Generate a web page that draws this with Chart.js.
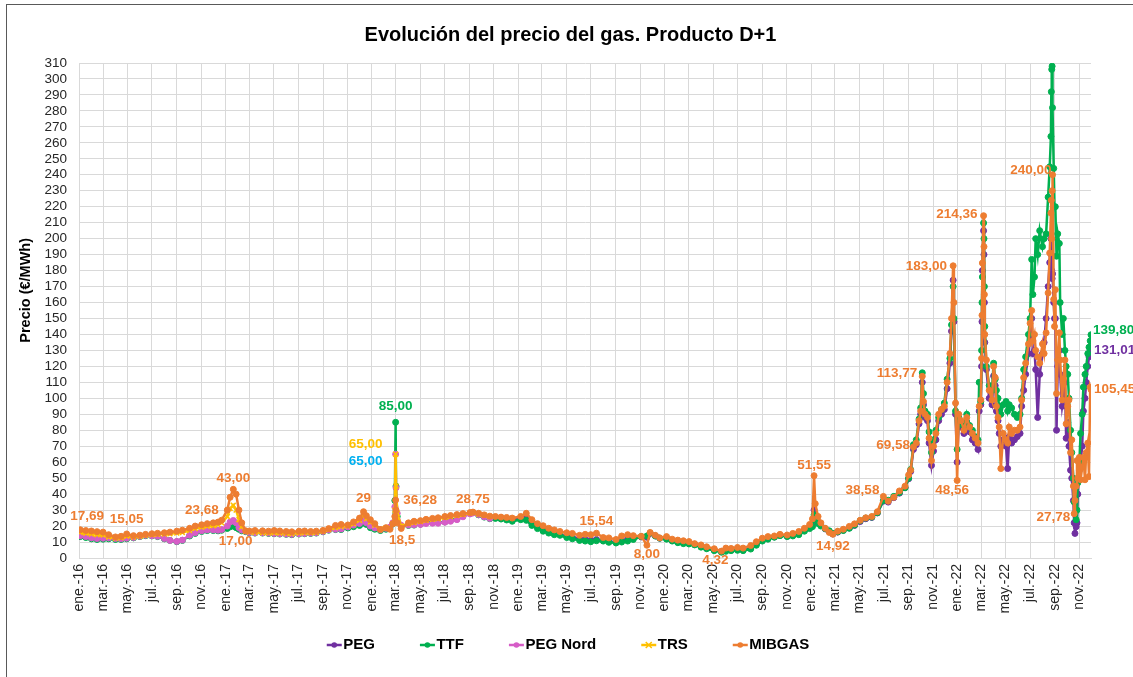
<!DOCTYPE html>
<html lang="es">
<head>
<meta charset="utf-8">
<title>Evolución del precio del gas. Producto D+1</title>
<script src="https://cdn.jsdelivr.net/npm/chart.js@4.4.1/dist/chart.umd.min.js"></script>
<style>
  html, body { margin: 0; padding: 0; background: #fff; overflow: hidden; }
  canvas { position: absolute; left: 0; top: 0; }
  #marco { position: absolute; left: 6px; top: 4px; width: 1200px; height: 800px; border: 1px solid #595959; pointer-events: none; }
</style>
</head>
<body>
<canvas id="grafico" width="1133" height="677"></canvas>
<div id="marco"></div>
<script>
// fechas de las muestras (producto D+1)
const fechas = [
  '2016-01-04','2016-01-18','2016-02-01','2016-02-15','2016-03-01','2016-03-15','2016-04-01','2016-04-15','2016-04-29','2016-05-16','2016-06-01','2016-06-15','2016-07-01','2016-07-15','2016-08-01','2016-08-15','2016-09-01','2016-09-15','2016-10-03','2016-10-17','2016-11-02','2016-11-16','2016-12-01','2016-12-13','2016-12-22',
  '2017-01-05','2017-01-12','2017-01-20','2017-01-27','2017-02-03','2017-02-10','2017-02-20','2017-03-01','2017-03-15','2017-04-03','2017-04-18','2017-05-02','2017-05-16','2017-06-01','2017-06-15','2017-07-03','2017-07-17','2017-08-01','2017-08-15','2017-09-01','2017-09-15','2017-10-02','2017-10-16','2017-11-02','2017-11-16','2017-12-01','2017-12-11','2017-12-18','2017-12-28',
  '2018-01-08','2018-01-22','2018-02-05','2018-02-15','2018-02-22','2018-02-27','2018-03-01','2018-03-02','2018-03-05','2018-03-15','2018-04-02','2018-04-16','2018-05-02','2018-05-16','2018-06-01','2018-06-15','2018-07-02','2018-07-16','2018-08-01','2018-08-16','2018-09-03','2018-09-10','2018-09-24','2018-10-08','2018-10-22','2018-11-05','2018-11-19','2018-12-03','2018-12-17',
  '2019-01-07','2019-01-21','2019-02-04','2019-02-18','2019-03-04','2019-03-18','2019-04-01','2019-04-15','2019-05-02','2019-05-16','2019-06-03','2019-06-17','2019-07-01','2019-07-15','2019-08-01','2019-08-15','2019-09-02','2019-09-16','2019-10-01','2019-10-15','2019-11-04','2019-11-18','2019-11-26','2019-12-09','2019-12-20',
  '2020-01-06','2020-01-20','2020-02-03','2020-02-17','2020-03-02','2020-03-16','2020-04-01','2020-04-15','2020-05-04','2020-05-22','2020-06-02','2020-06-15','2020-07-01','2020-07-15','2020-08-03','2020-08-17','2020-09-01','2020-09-15','2020-10-01','2020-10-15','2020-11-02','2020-11-16','2020-12-01','2020-12-15','2020-12-28',
  '2021-01-04','2021-01-08','2021-01-11','2021-01-18','2021-01-25','2021-02-05','2021-02-15','2021-02-24','2021-03-08','2021-03-22','2021-04-06','2021-04-19','2021-05-03','2021-05-17','2021-06-01','2021-06-15','2021-06-30','2021-07-12','2021-07-26','2021-08-09','2021-08-23','2021-09-01','2021-09-06','2021-09-13','2021-09-20','2021-09-27','2021-10-01','2021-10-05','2021-10-08','2021-10-12','2021-10-18','2021-10-22','2021-10-28','2021-11-02','2021-11-08','2021-11-15','2021-11-22','2021-11-29','2021-12-06','2021-12-13','2021-12-17','2021-12-21','2021-12-23','2021-12-27','2021-12-31',
  '2022-01-04','2022-01-10','2022-01-17','2022-01-24','2022-01-31','2022-02-07','2022-02-14','2022-02-21','2022-02-24','2022-02-28','2022-03-02','2022-03-03','2022-03-04','2022-03-07','2022-03-08','2022-03-09','2022-03-10','2022-03-14','2022-03-21','2022-03-28','2022-04-01','2022-04-05','2022-04-08','2022-04-12','2022-04-15','2022-04-19','2022-04-25','2022-05-02','2022-05-06','2022-05-10','2022-05-16','2022-05-23','2022-05-30','2022-06-06','2022-06-10','2022-06-15','2022-06-20','2022-06-27','2022-07-01','2022-07-05','2022-07-08','2022-07-12','2022-07-15','2022-07-20','2022-07-25','2022-08-01','2022-08-05','2022-08-10','2022-08-15','2022-08-19','2022-08-22','2022-08-23','2022-08-24','2022-08-25','2022-08-26','2022-08-29','2022-08-31','2022-09-02','2022-09-05','2022-09-08','2022-09-12','2022-09-14','2022-09-19','2022-09-22','2022-09-26','2022-09-29','2022-10-03','2022-10-06','2022-10-10','2022-10-13','2022-10-17','2022-10-19','2022-10-21','2022-10-24','2022-10-26','2022-10-28','2022-11-01','2022-11-04','2022-11-08','2022-11-11','2022-11-15','2022-11-18','2022-11-22','2022-11-25','2022-11-28','2022-11-30'
];

// €/MWh, desde 2016-01-04
const mibgas = [
  17.69,17.2,16.9,16.5,16.2,14.6,13.2,13.6,15.05,14.0,14.3,14.8,15.2,15.5,15.8,16.2,16.8,17.4,18.6,20.0,20.8,21.5,22.0,22.5,23.68,
  30.0,38.0,43.0,40.0,30.0,22.0,17.0,16.9,17.2,17.0,16.8,17.2,16.9,16.6,16.4,16.8,16.9,16.6,16.8,17.3,18.4,20.4,21.0,20.7,22.6,25.0,29.0,26.5,24.0,
  21.5,17.8,19.0,18.0,21.5,26.0,36.28,30.0,22.0,18.5,22.0,23.0,23.4,24.2,24.8,25.2,26.0,26.6,27.2,27.8,28.5,28.75,28.0,27.0,26.2,26.0,25.6,25.4,25.0,
  26.0,28.0,24.0,21.5,20.2,18.6,17.6,16.6,15.8,15.4,14.2,14.8,14.6,15.54,12.8,12.6,11.6,13.8,14.6,14.0,13.6,8.0,16.0,14.2,12.6,
  13.4,11.8,11.2,10.8,10.3,9.0,8.2,7.0,5.8,4.32,6.2,6.0,6.6,6.2,7.8,10.2,12.4,13.4,13.8,14.8,14.4,15.4,16.6,18.6,21.0,
  24.5,51.55,34.0,26.0,22.0,18.6,16.0,14.92,16.8,18.0,19.8,21.4,23.6,25.2,26.0,29.0,38.58,35.6,38.0,42.0,45.0,52.0,55.0,69.58,72.0,86.0,92.0,113.77,98.0,90.0,88.0,75.0,61.0,70.0,78.0,90.0,93.0,95.0,110.0,128.0,150.0,183.0,160.0,97.0,48.56,
  90,86,80,88,82,78,75,72,95,99,125,152,184.7,214.36,195,165,140,124,105,99,120,113,95,88,82,56,78,74,72,82,78,80,80,82,99,113,122,134,147,155,136,140,130,126,122,134,128,141,166,191,216,224,200,230,240,162,145,168,103,124,141,124,99,112,124,84,95,99,66,74,45,27.78,36,45,61,50,63,49,57,63,49,66,72,51,107,105.45
];

// €/MWh, desde 2016-01-04
const ttf = [
  13.4,12.8,12.0,11.6,11.8,12.0,11.6,11.6,12.0,12.6,13.4,14.0,13.8,13.4,12.0,11.0,10.2,11.0,13.8,15.4,16.6,17.2,17.2,17.0,17.4,
  18.5,19.5,20.0,19.0,18.0,17.0,16.5,15.8,15.6,15.6,15.4,15.2,15.0,14.8,14.6,15.0,15.2,15.4,15.6,16.4,17.4,17.8,17.8,18.8,19.6,20.4,22.0,21.0,19.0,
  18.0,17.2,18.0,19.0,21.5,36.0,85.0,45.0,26.0,20.0,20.4,20.6,21.2,22.4,22.6,22.4,22.6,23.6,24.6,26.6,28.0,28.4,27.0,25.6,24.6,24.8,24.4,23.8,23.0,
  24.0,23.6,20.4,18.4,16.8,15.6,14.6,14.2,12.8,12.0,11.0,10.6,10.2,10.8,10.6,9.8,9.4,10.0,10.6,11.6,13.4,13.8,15.6,13.8,12.4,
  11.8,10.6,9.6,9.0,8.8,8.2,6.8,5.8,4.6,3.6,4.2,4.6,4.8,4.6,5.6,8.0,10.6,11.8,13.0,14.0,13.4,13.8,14.6,16.8,18.4,
  19.6,27.0,24.0,21.6,20.0,18.4,17.0,15.4,16.4,17.2,18.6,20.6,23.4,25.0,25.6,28.4,36.0,36.2,38.6,41.0,44.0,50.0,55.4,71.0,74.0,87.0,94.0,116.0,103.0,92.0,90.0,79.0,66.0,74.0,80.0,88.0,93.0,97.0,112.0,125.0,146.0,170.0,150.0,92.0,68.0,
  88,84,82,90,83,80,76,74,110,98,130,160,176,209.8,200,170,145,120,108,105,122,112,105,100,95,90,96,98,92,96,94,90,88,90,100,118,126,140,150,187,165,176,200,190,205,195,200,203,226,245,264,292,306,308,282,244,220,220,189,203,197,160,140,150,130,120,115,100,80,66,50,35,28,24,30,47,60,78,90,107,115,120,128,132,136,139.8
];

// €/MWh, desde 2016-01-04 hasta la fusión de zonas (oct. 2018)
const pegNord = [
  14.0,13.4,12.6,12.2,12.4,12.6,12.2,12.0,12.4,12.8,13.6,14.2,14.0,13.6,12.2,11.0,10.4,11.2,14.2,15.8,17.0,17.6,17.6,17.4,17.8,
  20.0,22.5,23.5,22.0,19.0,17.5,16.8,16.0,15.8,15.8,15.6,15.4,15.2,15.0,14.8,15.2,15.4,15.6,15.8,16.6,17.6,18.0,18.2,19.4,20.6,21.6,23.4,22.0,20.0,
  18.8,17.8,18.6,19.4,22.0,32.0,65.0,44.0,28.0,20.5,20.6,20.8,21.0,21.6,21.8,21.8,22.4,23.0,24.0,25.8,27.6,28.2,27.2,25.8,24.8
];

const trs = [
  16.0,15.5,15.0,14.6,14.4,13.2,12.4,12.6,13.6,13.0,13.6,14.2,14.6,14.8,15.0,15.2,15.6,16.0,17.2,18.4,19.2,19.8,20.2,20.8,22.0,
  26.0,31.0,33.0,30.0,24.0,19.5,16.8,16.2,16.0,15.8,15.6,15.8,15.6,15.4,15.2,15.6,15.8,15.8,16.0,16.8,17.8,19.0,19.6,20.0,21.4,23.6,26.5,24.5,22.5,
  20.5,18.2,18.8,18.8,21.5,30.0,65.0,45.0,28.0,20.0,21.4,22.2,22.8,23.6,24.2,24.6,25.4,26.0,26.6,27.2,28.2,28.4,27.6,26.8,26.0
];

// €/MWh, desde 2018-11-05
const peg = [
  25.4,25.0,24.6,24.0,
  25.0,25.2,21.6,19.4,17.6,16.4,15.4,14.8,13.6,13.0,12.0,11.6,11.2,11.6,11.0,10.4,10.0,10.8,11.8,12.4,13.2,13.0,15.4,13.8,12.4,
  12.2,11.0,10.0,9.6,9.2,8.6,7.4,6.2,5.0,4.0,4.8,5.2,5.4,5.2,6.6,8.8,11.2,12.4,13.2,14.2,13.6,14.4,15.4,17.4,19.2,
  20.6,30.0,25.0,22.4,20.6,18.2,16.4,15.0,16.2,17.4,18.8,20.4,22.8,24.6,25.4,28.2,35.6,35.0,37.8,40.6,44.0,49.6,54.2,68.0,71.0,84.0,90.0,110.0,96.0,88.0,86.0,72.0,58.0,67.0,74.0,86.0,90.0,93.0,106.0,122.0,142.0,174.0,148.0,90.0,60.0,
  86,82,78,85,79,74,72,68,92,96,120,148,180,205,190,160,135,118,100,96,114,108,92,86,78,70,74,70,56,76,72,74,76,78,95,105,115,128,140,150,128,130,118,88,115,128,135,150,170,185,200,190,180,175,178,160,150,150,80,120,130,115,95,100,110,75,85,70,55,50,36,22,15.4,19.6,22,40,55,60,70,92,100,110,120,126,128,131.01
];

const etiquetasEje = [
  'ene.-16','mar.-16','may.-16','jul.-16','sep.-16','nov.-16',
  'ene.-17','mar.-17','may.-17','jul.-17','sep.-17','nov.-17',
  'ene.-18','mar.-18','may.-18','jul.-18','sep.-18','nov.-18',
  'ene.-19','mar.-19','may.-19','jul.-19','sep.-19','nov.-19',
  'ene.-20','mar.-20','may.-20','jul.-20','sep.-20','nov.-20',
  'ene.-21','mar.-21','may.-21','jul.-21','sep.-21','nov.-21',
  'ene.-22','mar.-22','may.-22','jul.-22','sep.-22','nov.-22'
];

const FUENTE = "'Liberation Sans', Arial, sans-serif";
const MORADO = '#7030A0', VERDE = '#00B050', ROSA = '#D65DC7', AMARILLO = '#FFC000', NARANJA = '#ED7D31', AZUL = '#00B0F0';

// serie, fecha, texto, color, alineación, dx, dy
const etiquetas = [
  ['MIBGAS', '2016-01-04', '17,69', NARANJA, 'center', 7, -13],
  ['MIBGAS', '2016-04-29', '15,05', NARANJA, 'center', 0, -15],
  ['MIBGAS', '2016-12-22', '23,68', NARANJA, 'right', -3, -10],
  ['MIBGAS', '2017-01-20', '43,00', NARANJA, 'center', 0, -11],
  ['MIBGAS', '2017-02-20', '17,00', NARANJA, 'center', -10, 10],
  ['MIBGAS', '2017-12-11', '29', NARANJA, 'center', 0, -13],
  ['TRS', '2018-03-01', '65,00', AMARILLO, 'right', -13, -10],
  ['PEG Nord', '2018-03-01', '65,00', AZUL, 'right', -13, 7],
  ['TTF', '2018-03-01', '85,00', VERDE, 'center', 0, -15.5],
  ['MIBGAS', '2018-03-01', '36,28', NARANJA, 'left', 7.7, 0],
  ['MIBGAS', '2018-03-15', '18,5', NARANJA, 'center', 1, 11.5],
  ['MIBGAS', '2018-09-10', '28,75', NARANJA, 'center', 0, -13],
  ['MIBGAS', '2019-07-15', '15,54', NARANJA, 'center', 0, -12],
  ['MIBGAS', '2019-11-18', '8,00', NARANJA, 'center', 0, 9],
  ['MIBGAS', '2020-05-22', '4,32', NARANJA, 'center', -6, 9.6],
  ['MIBGAS', '2021-01-08', '51,55', NARANJA, 'center', 0, -10],
  ['MIBGAS', '2021-02-24', '14,92', NARANJA, 'center', 0, 12.5],
  ['MIBGAS', '2021-06-30', '38,58', NARANJA, 'right', -4, -6],
  ['MIBGAS', '2021-09-13', '69,58', NARANJA, 'right', -3.5, -2],
  ['MIBGAS', '2021-10-05', '113,77', NARANJA, 'right', -5, -3],
  ['MIBGAS', '2021-12-21', '183,00', NARANJA, 'right', -6, 0],
  ['MIBGAS', '2021-12-31', '48,56', NARANJA, 'center', -5, 10],
  ['MIBGAS', '2022-03-07', '214,36', NARANJA, 'right', -6, -1],
  ['MIBGAS', '2022-08-26', '240,00', NARANJA, 'right', -1, -4],
  ['MIBGAS', '2022-10-19', '27,78', NARANJA, 'right', -4, 4],
  ['TTF', '2022-11-30', '139,80', VERDE, 'left', 2, -4],
  ['PEG', '2022-11-30', '131,01', MORADO, 'left', 3, 1],
  ['MIBGAS', '2022-11-30', '105,45', NARANJA, 'left', 3, 0]
];

Chart.defaults.font.family = FUENTE;

const ORIGEN = Date.UTC(2016, 0, 1);
const dia = (f) => {
  const [a, m, d] = f.split('-').map(Number);
  return (Date.UTC(a, m - 1, d) - ORIGEN) / 86400000;
};
// primer día de ene, mar, may... de cada año
const diasEje = etiquetasEje.map((_, i) =>
  (Date.UTC(2016 + Math.floor(i / 6), (i % 6) * 2, 1) - ORIGEN) / 86400000);

function serie(label, valores, color, orden, inicio, estilo) {
  const desde = fechas.indexOf(inicio);
  const cruz = estilo === 'crossRot';
  return {
    label,
    inicio: desde,
    data: valores.map((v, k) => ({ x: dia(fechas[desde + k]), y: v })),
    borderColor: color,
    backgroundColor: color,
    borderWidth: 2.5,
    pointStyle: estilo,
    pointRadius: cruz ? 3.4 : 3,
    pointBorderWidth: cruz ? 1.6 : 1,
    pointBorderColor: color,
    pointBackgroundColor: color,
    tension: 0,
    order: orden,
  };
}

const pluginEtiquetas = {
  id: 'etiquetasValor',
  afterDatasetsDraw(chart) {
    const ctx = chart.ctx;
    ctx.save();
    ctx.font = 'bold 13.5px ' + FUENTE;
    ctx.textBaseline = 'middle';
    etiquetas.forEach(([nombre, fecha, texto, color, alinear, dx, dy]) => {
      const di = chart.data.datasets.findIndex(d => d.label === nombre);
      const ds = chart.data.datasets[di];
      const pt = chart.getDatasetMeta(di).data[fechas.indexOf(fecha) - ds.inicio];
      if (!pt) return;
      ctx.fillStyle = color;
      ctx.textAlign = alinear;
      ctx.fillText(texto, pt.x + dx, pt.y + dy);
    });
    ctx.restore();
  }
};

// leyenda al estilo Excel: tramo de línea con marcador y nombre en negrita
const pluginLeyenda = {
  id: 'leyendaLinea',
  afterDraw(chart) {
    const ctx = chart.ctx;
    const hueco = 45, simbolo = 15, y = chart.chartArea.bottom + 87;
    ctx.save();
    ctx.font = 'bold 15px ' + FUENTE;
    ctx.textBaseline = 'middle';
    ctx.textAlign = 'left';
    const items = chart.data.datasets;
    const anchos = items.map(d => simbolo + 1.5 + ctx.measureText(d.label).width);
    const total = anchos.reduce((a, b) => a + b, 0) + hueco * (items.length - 1);
    let x = 568 - total / 2;
    items.forEach((d, i) => {
      ctx.strokeStyle = d.borderColor;
      ctx.fillStyle = d.borderColor;
      ctx.lineWidth = 2.5;
      ctx.beginPath(); ctx.moveTo(x, y); ctx.lineTo(x + simbolo, y); ctx.stroke();
      const cx = x + simbolo / 2;
      if (d.pointStyle === 'crossRot') {
        ctx.lineWidth = 1.5;
        ctx.beginPath();
        ctx.moveTo(cx - 3, y - 3); ctx.lineTo(cx + 3, y + 3);
        ctx.moveTo(cx + 3, y - 3); ctx.lineTo(cx - 3, y + 3);
        ctx.stroke();
      } else {
        ctx.beginPath(); ctx.arc(cx, y, 2.8, 0, Math.PI * 2); ctx.fill();
      }
      ctx.fillStyle = '#000';
      ctx.fillText(d.label, x + simbolo + 1.5, y);
      x += anchos[i] + hueco;
    });
    ctx.restore();
  }
};

const datasets = [
  serie('PEG', peg, MORADO, 4, '2018-11-05', 'circle'),
  serie('TTF', ttf, VERDE, 3, '2016-01-04', 'circle'),
  serie('PEG Nord', pegNord, ROSA, 2, '2016-01-04', 'circle'),
  serie('TRS', trs, AMARILLO, 1, '2016-01-04', 'crossRot'),
  serie('MIBGAS', mibgas, NARANJA, 0, '2016-01-04', 'circle'),
];

new Chart(document.getElementById('grafico'), {
  type: 'line',
  data: { datasets },
  options: {
    responsive: false,
    animation: false,
    devicePixelRatio: 1,
    layout: { padding: { left: 8, right: 0, top: 0, bottom: 0 } },
    scales: {
      x: {
        type: 'linear',
        min: 0,
        max: dia('2022-11-30'),
        afterBuildTicks: (s) => { s.ticks = diasEje.map(v => ({ value: v })); },
        afterFit: (s) => { s.height = 119; },
        grid: { color: '#D9D9D9', drawTicks: false },
        border: { color: '#D9D9D9' },
        ticks: {
          autoSkip: false,
          maxRotation: 90,
          minRotation: 90,
          padding: 6,
          color: '#262626',
          font: { size: 14 },
          callback: (v, i) => etiquetasEje[i],
        },
      },
      y: {
        min: 0,
        max: 310,
        afterFit: (s) => { s.width = 71; },
        grid: { color: '#D9D9D9', drawTicks: false },
        border: { color: '#D9D9D9' },
        ticks: { stepSize: 10, autoSkip: false, padding: 12, color: '#262626', font: { size: 13.5 } },
        title: {
          display: true,
          text: '\u00A0'.repeat(10) + 'Precio (€/MWh)',
          color: '#000',
          font: { size: 14.5, weight: 'bold' },
          padding: { top: 9, bottom: 0 },
        },
      },
      derecha: {
        type: 'linear',
        position: 'right',
        grid: { display: false, drawTicks: false },
        border: { display: false },
        ticks: { display: false },
        afterFit: (s) => { s.width = 42; },
      },
    },
    plugins: {
      title: {
        display: true,
        text: 'Evolución del precio del gas. Producto D+1',
        color: '#000',
        font: { size: 20, weight: 'bold' },
        padding: { top: 23, bottom: 16 },
      },
      legend: { display: false },
      tooltip: { enabled: false },
    },
  },
  plugins: [pluginEtiquetas, pluginLeyenda],
});
</script>
</body>
</html>
